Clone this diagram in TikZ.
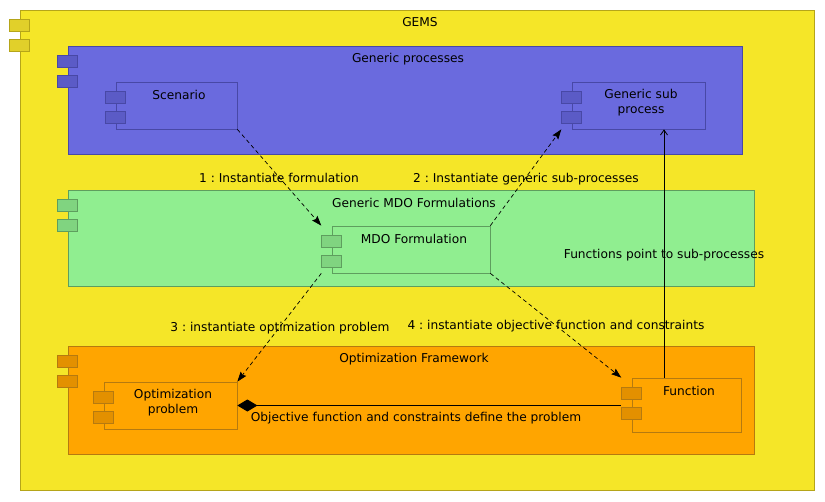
\documentclass[tikz,border=0pt]{standalone}
\usepackage{fontspec}
\setmainfont{DejaVu Sans}
\usetikzlibrary{positioning,arrows.meta}
\frenchspacing

\definecolor{gemsfill}{HTML}{F5E628}
\definecolor{gemsdraw}{HTML}{B5A519}
\definecolor{gemsport}{HTML}{E1D02A}
\definecolor{procfill}{HTML}{6A6ADE}
\definecolor{procdraw}{HTML}{4848A6}
\definecolor{procport}{HTML}{5B5BC6}
\definecolor{formfill}{HTML}{90EE90}
\definecolor{formdraw}{HTML}{5E9E5E}
\definecolor{formport}{HTML}{80D480}
\definecolor{optfill}{HTML}{FFA500}
\definecolor{optdraw}{HTML}{B57A10}
\definecolor{optport}{HTML}{E39000}

\begin{document}
\begin{tikzpicture}[
    x=1pt, y=-1pt,
    font=\fontsize{12.2}{15}\selectfont,
    box/.style={
        rectangle,
        inner sep=0pt,
        line width=0.7pt
    },
    port/.style={
        rectangle,
        inner sep=0pt,
        minimum width=20pt,
        minimum height=12pt,
        line width=0.7pt
    },
    txt/.style={
        inner sep=1pt,
        align=center
    },
    call/.style={
        dash pattern=on 4pt off 3pt,
        line width=0.7pt,
        -{Stealth[length=10pt,width=7pt,inset=1.5pt]}
    },
    link/.style={
        line width=0.8pt
    }
]
\useasboundingbox (0,0) rectangle (825,501);

% GEMS
\node[box, fill=gemsfill, draw=gemsdraw, minimum width=794pt, minimum height=480pt] (gems) at (417,250) {};
\node[txt] (gemstitle) at (420,22) {GEMS};

% Generic processes
\node[box, fill=procfill, draw=procdraw, minimum width=674pt, minimum height=108pt] (procs) at (405,100) {};
\node[txt] (procstitle) at (408,59) {Generic processes};
\node[box, fill=procfill, draw=procdraw, minimum width=121pt, minimum height=47pt] (scen) at (176.5,105.5) {};
\node[txt] (scentitle) at (179,95) {Scenario};
\node[box, fill=procfill, draw=procdraw, minimum width=133pt, minimum height=47pt] (sub) at (638.5,105.5) {};
\node[txt] (subtitle) at (641,102.5) {Generic sub\\process};

% Generic MDO Formulations
\node[box, fill=formfill, draw=formdraw, minimum width=686pt, minimum height=96pt] (forms) at (411,238) {};
\node[txt] (formstitle) at (414,203) {Generic MDO Formulations};
\node[box, fill=formfill, draw=formdraw, minimum width=158pt, minimum height=47pt] (mdo) at (411,249.5) {};
\node[txt] (mdotitle) at (414,239) {MDO Formulation};

% Optimization Framework
\node[box, fill=optfill, draw=optdraw, minimum width=686pt, minimum height=108pt] (optfw) at (411,400) {};
\node[txt] (optfwtitle) at (414,359) {Optimization Framework};
\node[box, fill=optfill, draw=optdraw, minimum width=133pt, minimum height=47pt] (prob) at (170.5,405.5) {};
\node[txt] (probtitle) at (173,402.5) {Optimization\\problem};
\node[box, fill=optfill, draw=optdraw, minimum width=109pt, minimum height=54pt] (func) at (686.5,405) {};
\node[txt] (functitle) at (689,391) {Function};

% Ports
\foreach \b/\c in {gems/gems, procs/proc, scen/proc, sub/proc, forms/form, mdo/form, optfw/opt, prob/opt, func/opt} {
    \node[port, fill=\c port, draw=\c draw] (\b p1) at ([yshift=-16pt]\b.north west) {};
    \node[port, fill=\c port, draw=\c draw] (\b p2) at ([yshift=-36pt]\b.north west) {};
}

% Calls
\draw[call] (scen.south east) -- (mdop1.west |- mdo.north);
\draw[call] (mdo.north east) -- (subp2.west |- sub.south);
\draw[call] (mdop2.west |- mdo.south) -- (prob.north east);
\draw[call] (mdo.south east) -- (funcp1.west |- func.north);
\node[txt] (call1) at (279,178) {1 : Instantiate formulation};
\node[txt] (call2) at (526,179) {2 : Instantiate generic sub-processes};
\node[txt] (call3) at (280,328) {3 : instantiate optimization problem};
\node[txt] (call4) at (556,326) {4 : instantiate objective function and constraints};

% Links
\coordinate (funcptr) at (664,378);
\draw[link, -{Straight Barb[length=5pt,width=7pt]}] (funcptr) -- (funcptr |- sub.south);
\node[txt] (ptrlabel) at (664,255) {Functions point to sub-processes};
\draw[link, {Diamond[length=20pt,width=12pt]}-] (prob.east) -- (funcp1.west |- prob.east);
\node[txt] (deflabel) at (416,418) {Objective function and constraints define the problem};

\end{tikzpicture}
\end{document}
